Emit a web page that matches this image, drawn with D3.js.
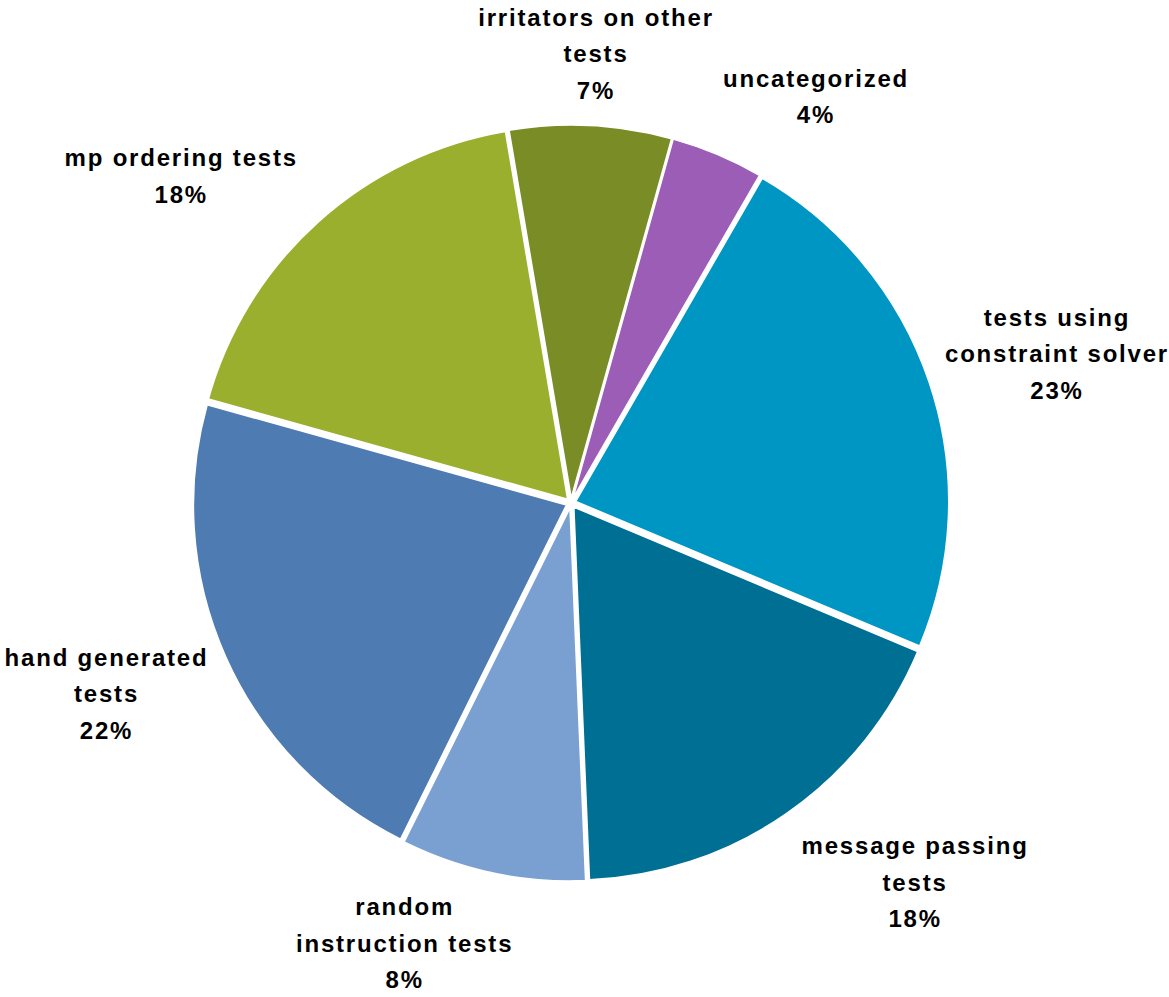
<!DOCTYPE html>
<html>
<head>
<meta charset="utf-8">
<title>Test categories</title>
<style>
body { margin: 0; background: #fff; }
svg text { font-family: "Liberation Sans", Arial, sans-serif; font-weight: bold; font-size: 24px; letter-spacing: 1.8px; fill: #000; }
</style>
</head>
<body>
<script src="https://cdnjs.cloudflare.com/ajax/libs/d3/7.8.5/d3.min.js"></script>
<script>
// dane - kolejnosc zgodnie z ruchem wskazowek zegara
var kategorie = [
  ["tests using", "constraint solver"],
  ["message passing", "tests"],
  ["random", "instruction tests"],
  ["hand generated", "tests"],
  ["mp ordering tests"],
  ["irritators on other", "tests"],
  ["uncategorized"]
];
var procenty = [23, 18, 8, 22, 18, 7, 4];
var kolory = ["#0096c4", "#006f94", "#7a9fd1", "#4e7bb1", "#9aaf2e", "#7a8c26", "#9b5db6"];

// poprawki polozenia etykiet (dx, dy)
var przesuniecia = [[-6, -3], [36, 7], [-61, 5], [2, 10], [-18, 2], [-3, 0], [50, -6]];

var width = 1169, height = 997;
var cx = 571, cy = 503;
var R = 373;
var wysuniecie = 5;
var odstep = 27;
var wysLinii = 36.5;

var svg = d3.select('body').append('svg')
  .attr('width', width)
  .attr('height', height);

var pie = d3.pie()
  .sort(null)
  .value(function(d) { return d; })
  .startAngle(30 * Math.PI / 180)
  .endAngle(30 * Math.PI / 180 + 2 * Math.PI);

var arc = d3.arc().innerRadius(0).outerRadius(R);

var luki = pie(procenty);

var g = svg.append('g').attr('transform', 'translate(' + cx + ',' + cy + ')');

g.selectAll('path')
  .data(luki)
  .enter()
  .append('path')
  .attr('d', arc)
  .attr('transform', function(d) {
    var a = (d.startAngle + d.endAngle) / 2;
    return 'translate(' + (Math.sin(a) * wysuniecie) + ',' + (-Math.cos(a) * wysuniecie) + ')';
  })
  .style('fill', function(d, i) { return kolory[i]; })
  .style('stroke', '#fff')
  .style('stroke-width', 1.5);

// etykiety
var etykiety = g.selectAll('text.lab')
  .data(luki)
  .enter()
  .append('text')
  .attr('class', 'lab')
  .attr('text-anchor', 'middle');

etykiety.each(function(d, i) {
  var t = d3.select(this);
  var linie = kategorie[i].concat([procenty[i] + '%']);
  linie.forEach(function(l) {
    t.append('tspan').text(l);
  });
  // szerokosc najdluzszej linii
  var szer = 0;
  t.selectAll('tspan').each(function() {
    szer = Math.max(szer, this.getComputedTextLength());
  });
  var wys = (linie.length - 1) * wysLinii + 21;
  var a = (d.startAngle + d.endAngle) / 2;
  var ux = Math.sin(a), uy = -Math.cos(a);
  var m = Math.max(Math.abs(ux), Math.abs(uy));
  var r = R + odstep;
  var x = ux * r + (szer / 2) * ux / m + przesuniecia[i][0];
  var y = uy * r + (wys / 2) * uy / m + przesuniecia[i][1];
  var y0 = y - wys / 2 + 16;
  t.selectAll('tspan')
    .attr('x', x + 0.9)
    .attr('y', function(l, j) { return y0 + j * wysLinii; });
});
</script>
</body>
</html>
